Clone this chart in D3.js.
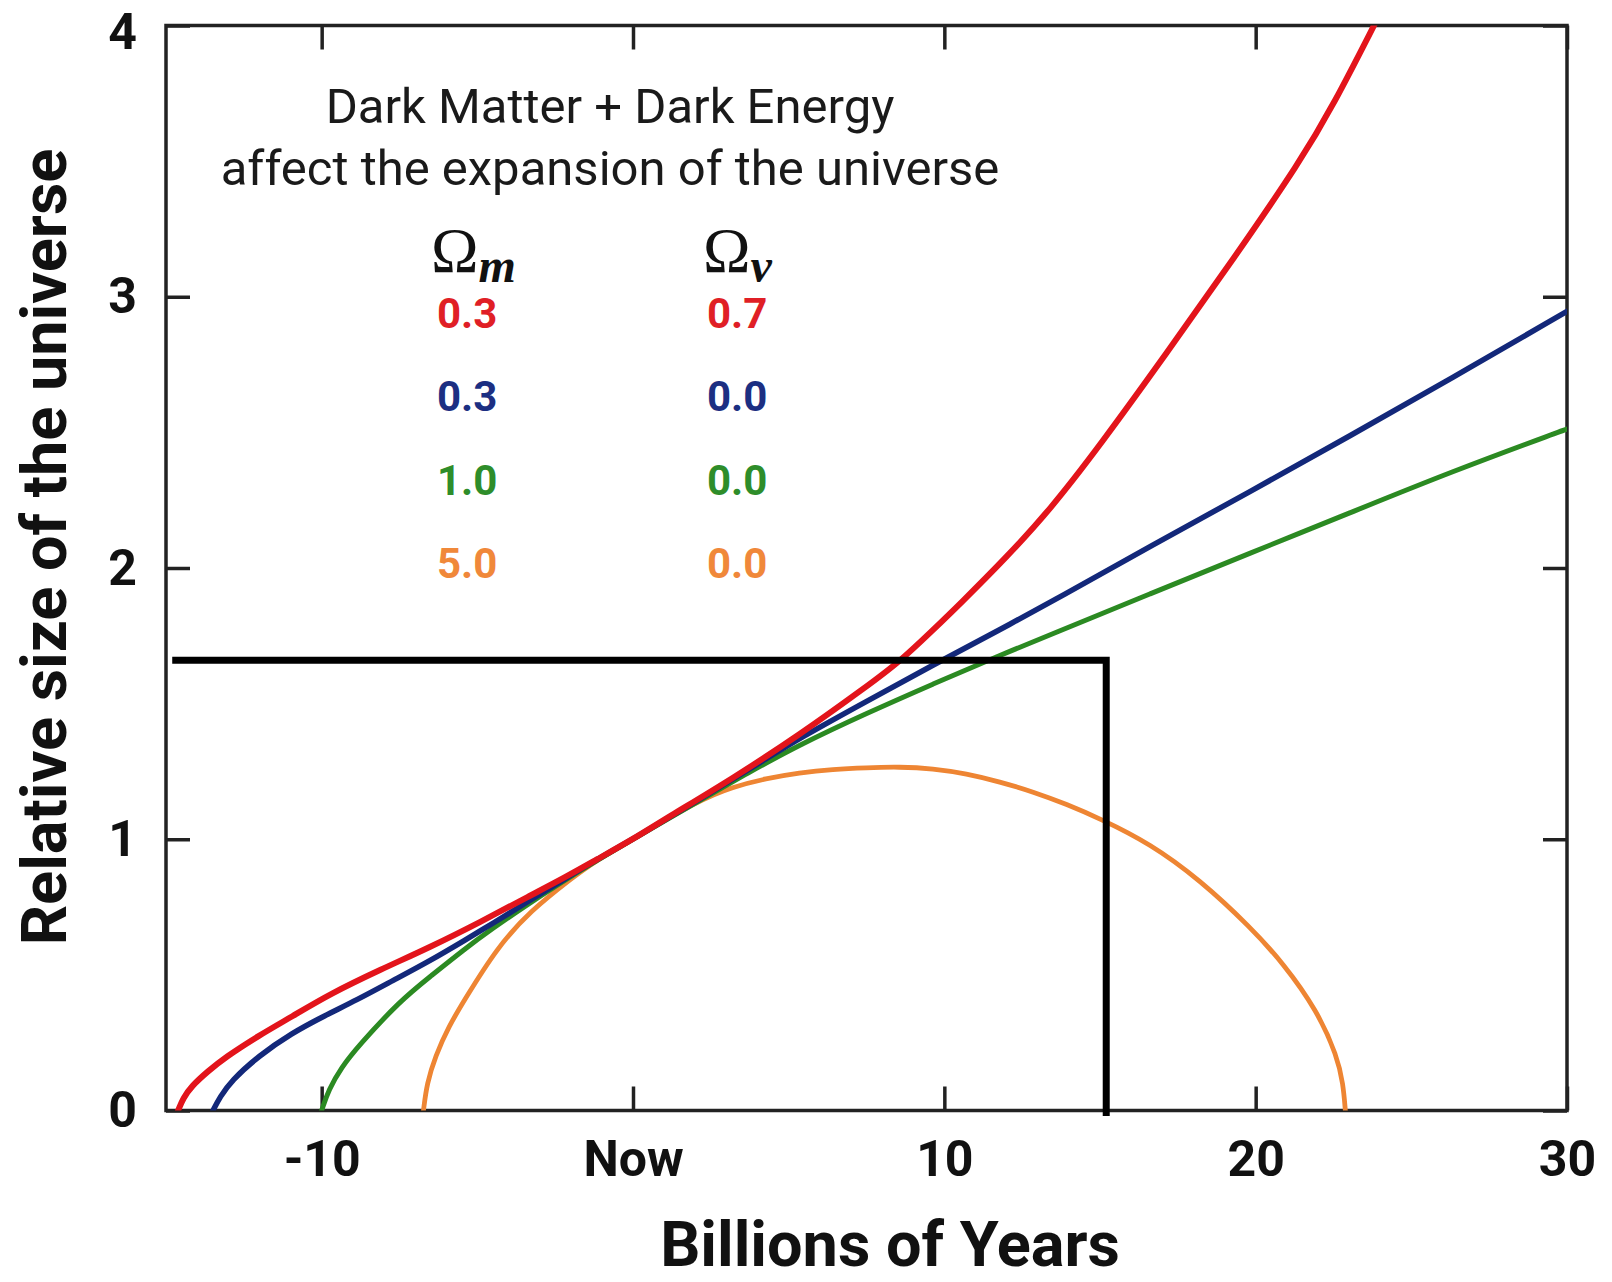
<!DOCTYPE html>
<meta charset="utf-8">
<script src="https://d3js.org/d3.v7.min.js"></script>
<style>
body { margin: 0; background: #fff; }
.axis text { font-family: Roboto, sans-serif; font-weight: bold; font-size: 50px; fill: #111; }
.axis line { stroke: #222; stroke-width: 3.5px; }
.axis path { display: none; }
.title { font-family: Roboto, sans-serif; font-size: 49px; fill: #1a1a1a; }
.axisLabel { font-family: Roboto, sans-serif; font-weight: bold; font-size: 63px; fill: #111; }
.val { font-family: Roboto, sans-serif; font-weight: bold; font-size: 42px; }
.omega { font-family: "Liberation Serif", "DejaVu Serif", serif; font-size: 64px; fill: #111; }
</style>
<body>
<div id="chart"></div>
<script>
// values: x = billions of years from now, y = relative size
var redX = [-14.61, -14.45, -14.18, -13.65, -13.11, -12.04, -10.97, -9.73, -8.10, -6.52, -4.90, -3.31, -2.20, -1.17, 0, 1.05, 3.20, 5.34, 7.49, 8.56, 9.63, 10.49, 12.0, 13.39, 15.0, 17.14, 19.29, 21.44, 22.51, 23.80, 24.2]
var redY = [0, 0.045, 0.090, 0.145, 0.195, 0.275, 0.345, 0.430, 0.520, 0.602, 0.695, 0.792, 0.858, 0.925, 1.0, 1.076, 1.224, 1.384, 1.562, 1.654, 1.771, 1.866, 2.040, 2.214, 2.452, 2.792, 3.140, 3.500, 3.710, 4.0, 4.09]

var blueX = [-13.49, -13.27, -12.90, -12.04, -10.97, -9.90, -8.88, -7.70, -6.52, -5.40, -4.50, -3.45, -2.38, -1.31, 0, 2.12, 4.27, 5.34, 7.49, 9.63, 11.78, 13.71, 16.61, 19.83, 23.04, 26.26, 29.91, 30]
var blueY = [0, 0.049, 0.110, 0.200, 0.285, 0.350, 0.407, 0.480, 0.552, 0.628, 0.690, 0.765, 0.840, 0.916, 1.0, 1.146, 1.296, 1.372, 1.508, 1.642, 1.772, 1.893, 2.080, 2.282, 2.488, 2.697, 2.940, 2.946]

var greenX = [-10.0, -9.78, -9.36, -8.82, -7.48, -6.50, -5.45, -4.50, -3.45, -2.38, -1.31, 0, 2.12, 3.70, 5.34, 7.49, 9.63, 11.78, 13.39, 16.61, 19.83, 23.04, 26.26, 29.91, 30]
var greenY = [0, 0.076, 0.160, 0.238, 0.405, 0.495, 0.592, 0.672, 0.755, 0.835, 0.912, 1.0, 1.142, 1.245, 1.348, 1.464, 1.572, 1.678, 1.753, 1.905, 2.055, 2.204, 2.354, 2.509, 2.512]

var orangeX = [-6.73, -6.62, -6.35, -5.92, -5.40, -4.38, -3.31, -1.90, -1.31, 0, 2.12, 3.20, 4.27, 5.34, 6.42, 7.49, 8.56, 9.63, 10.71, 11.78, 12.85, 13.93, 15.0, 16.61, 18.22, 19.83, 20.90, 21.97, 22.62, 22.81, 22.88]
var orangeY = [0, 0.100, 0.200, 0.310, 0.410, 0.598, 0.735, 0.862, 0.912, 1.0, 1.144, 1.193, 1.224, 1.245, 1.258, 1.264, 1.267, 1.261, 1.242, 1.212, 1.175, 1.129, 1.076, 0.984, 0.849, 0.676, 0.541, 0.369, 0.200, 0.098, 0]

var omegaM = ["0.3", "0.3", "1.0", "5.0"]
var omegaV = ["0.7", "0.0", "0.0", "0.0"]
var lineColors = ["#e3141b", "#13287a", "#2b8a22", "#ee8533"]
var textColors = ["#e01f26", "#1c2f82", "#2e8d2a", "#f0883a"]

var xTicks = [-10, 0, 10, 20, 30]
var yTicks = [0, 1, 2, 3, 4]

// the black corner drawn over the plot
var boxX = [-14.8, 15.2, 15.2]
var boxY = [1.66, 1.66, -0.02]

function zip(xs, ys) {
  return xs.map(function(x, i) { return {x: x, y: ys[i]} })
}

var series = [
  {name: "orange", pts: zip(orangeX, orangeY), color: lineColors[3], w: 4.8},
  {name: "green", pts: zip(greenX, greenY), color: lineColors[2], w: 5},
  {name: "blue", pts: zip(blueX, blueY), color: lineColors[1], w: 5.5},
  {name: "red", pts: zip(redX, redY), color: lineColors[0], w: 6}
]

margin = {top: 25.5, right: 45, bottom: 171.5, left: 166}
width = 1612 - margin.left - margin.right
height = 1282 - margin.top - margin.bottom

svg = d3.select("#chart").append("svg")
  .attr("width", 1612)
  .attr("height", 1282)

plot = svg.append("g")
  .attr("transform", "translate(" + margin.left + "," + margin.top + ")")

xScale = d3.scaleLinear().domain([-15, 30]).range([0, width])
yScale = d3.scaleLinear().domain([0, 4]).range([height, 0])

svg.append("defs").append("clipPath").attr("id", "clip")
  .append("rect").attr("width", width).attr("height", height)

// axes, ticks point inward
plot.append("g").attr("class", "axis")
  .attr("transform", "translate(0," + height + ")")
  .call(d3.axisBottom(xScale).tickValues(xTicks).tickSizeInner(-24).tickSizeOuter(0).tickPadding(30)
    .tickFormat(function(d) { return d === 0 ? "Now" : String(d) }))

plot.append("g").attr("class", "axis")
  .call(d3.axisTop(xScale).tickValues(xTicks).tickSizeInner(-24).tickSizeOuter(0).tickFormat(""))

yAxisG = plot.append("g").attr("class", "axis")
  .call(d3.axisLeft(yScale).tickValues(yTicks).tickSizeInner(-24).tickSizeOuter(0).tickPadding(29)
    .tickFormat(function(d) { return String(d) }))
// top label sits on the page edge, nudge it down a little
yAxisG.selectAll("text").filter(function(d) { return d === 4 }).attr("dy", "0.45em")

plot.append("g").attr("class", "axis")
  .attr("transform", "translate(" + width + ",0)")
  .call(d3.axisRight(yScale).tickValues(yTicks).tickSizeInner(-24).tickSizeOuter(0).tickFormat(""))

plot.append("rect")
  .attr("width", width).attr("height", height)
  .attr("fill", "none").attr("stroke", "#222").attr("stroke-width", 3.5)

line = d3.line()
  .x(function(d) { return xScale(d.x) })
  .y(function(d) { return yScale(d.y) })
  .curve(d3.curveBasis)

plot.append("g").attr("clip-path", "url(#clip)")
  .selectAll("path")
  .data(series)
  .enter()
  .append("path")
  .attr("d", function(d) { return line(d.pts) })
  .attr("fill", "none")
  .attr("stroke", function(d) { return d.color })
  .attr("stroke-width", function(d) { return d.w })
  .attr("stroke-linecap", "round")

boxLine = d3.line()
  .x(function(d) { return xScale(d.x) })
  .y(function(d) { return yScale(d.y) })

plot.append("path")
  .attr("d", boxLine(zip(boxX, boxY)))
  .attr("fill", "none")
  .attr("stroke", "#000")
  .attr("stroke-width", 7)
  .attr("stroke-linejoin", "miter")

// titles
svg.append("text").attr("class", "title")
  .attr("x", 610).attr("y", 123).attr("text-anchor", "middle")
  .text("Dark Matter + Dark Energy")
svg.append("text").attr("class", "title")
  .attr("x", 610).attr("y", 185).attr("text-anchor", "middle")
  .text("affect the expansion of the universe")

svg.append("text").attr("class", "axisLabel")
  .attr("x", 890).attr("y", 1266).attr("text-anchor", "middle")
  .text("Billions of Years")

svg.append("text").attr("class", "axisLabel")
  .attr("transform", "translate(66,547) rotate(-90)")
  .attr("text-anchor", "middle")
  .text("Relative size of the universe")

// legend table
heads = [{x: 431, sub: "m"}, {x: 703, sub: "v"}]
heads.forEach(function(h) {
  t = svg.append("text").attr("class", "omega").attr("x", h.x).attr("y", 272).text("Ω")
  t.append("tspan")
    .attr("dy", 10)
    .style("font-style", "italic")
    .style("font-weight", "bold")
    .style("font-size", "48px")
    .text(h.sub)
})

legend = svg.append("g")
legend.selectAll("text.m")
  .data(omegaM)
  .enter()
  .append("text")
  .attr("class", "val m")
  .attr("x", 437)
  .attr("y", function(d, i) { return 328 + i * 83.3 })
  .attr("fill", function(d, i) { return textColors[i] })
  .text(function(d) { return d })

legend.selectAll("text.v")
  .data(omegaV)
  .enter()
  .append("text")
  .attr("class", "val v")
  .attr("x", 707)
  .attr("y", function(d, i) { return 328 + i * 83.3 })
  .attr("fill", function(d, i) { return textColors[i] })
  .text(function(d) { return d })
</script>
</body>
